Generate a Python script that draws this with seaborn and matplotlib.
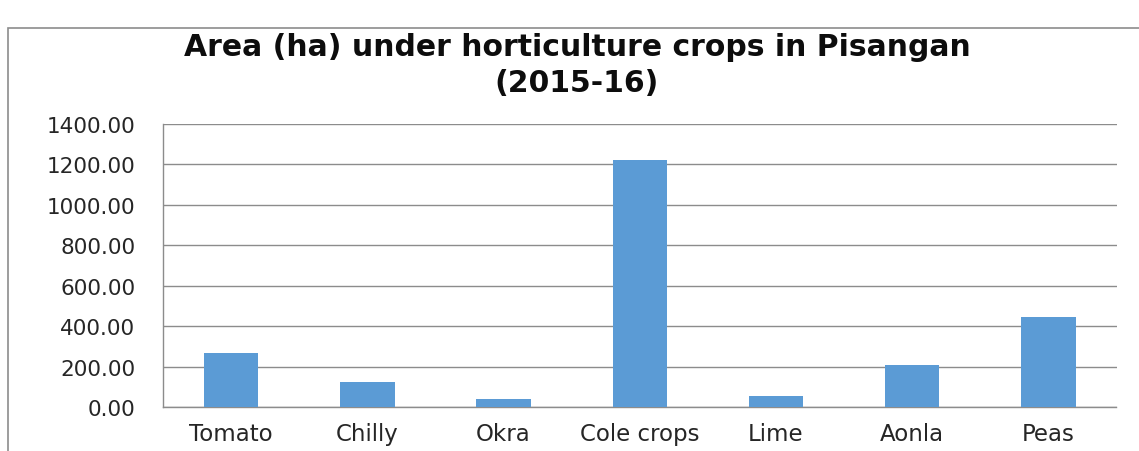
import matplotlib
matplotlib.use("Agg")
import matplotlib.pyplot as plt
from matplotlib.patches import Rectangle
import seaborn as sns
import pandas as pd
import numpy as np

# Area (ha) under horticulture crops, 2015-16
crops = ["Tomato", "Chilly", "Okra", "Cole crops", "Lime", "Aonla", "Peas"]
area_ha = [268, 125, 42, 1222, 52, 209, 445]
y_ticks = [0, 200, 400, 600, 800, 1000, 1200, 1400]

df = pd.DataFrame({"crop": crops, "area": area_ha})

sns.set_theme(style="white")
plt.rcParams["font.family"] = ["DejaVu Sans"]

W, H = 1139, 452
fig = plt.figure(figsize=(W / 100, H / 100), dpi=100)
fig.patch.set_facecolor("white")

ax = fig.add_axes([163 / W, 1 - 408 / H, (1116.5 - 163) / W, (408 - 125) / H])

sns.barplot(data=df, x="crop", y="area", color="#5B9BD5", width=0.4,
            saturation=1, linewidth=0, ax=ax, zorder=3)

grid_col = "#8C8C8C"
ax.set_ylim(0, 1400)
ax.set_xlim(-0.5, len(crops) - 0.5)
ax.set_yticks(y_ticks)
ax.set_yticklabels([f"{v:.2f}" for v in y_ticks])
ax.yaxis.grid(True, color=grid_col, linewidth=1, zorder=0)
ax.set_axisbelow(True)

# category boundary ticks on the x axis
ax.set_xticks(np.arange(-0.5, len(crops), 1.0), minor=True)
ax.tick_params(axis="x", which="minor", length=5, width=1, color=grid_col,
               direction="out")
ax.tick_params(axis="x", which="major", length=0, pad=11, labelsize=16.5,
               labelcolor="#262626")
ax.tick_params(axis="y", which="major", length=8, width=1, color=grid_col,
               direction="out", pad=12, labelsize=15.5, labelcolor="#262626")

for s in ["top", "right"]:
    ax.spines[s].set_visible(False)
for s in ["left", "bottom"]:
    ax.spines[s].set_color(grid_col)
    ax.spines[s].set_linewidth(1)
ax.set_xlabel("")
ax.set_ylabel("")

# chart frame
fig.patches.append(Rectangle((8 / W, -0.2), 2.0, 0.2 + (H - 29) / H,
                             transform=fig.transFigure, fill=False,
                             edgecolor="#8C8C8C", linewidth=1.2))

fig.text(577 / W, 1 - 48 / H, "Area (ha) under horticulture crops in Pisangan",
         ha="center", va="center", fontsize=21.5, fontweight="bold", color="#0D0D0D")
fig.text(577 / W, 1 - 84 / H, "(2015-16)",
         ha="center", va="center", fontsize=21.5, fontweight="bold", color="#0D0D0D")

fig.savefig("out.png", dpi=100)
